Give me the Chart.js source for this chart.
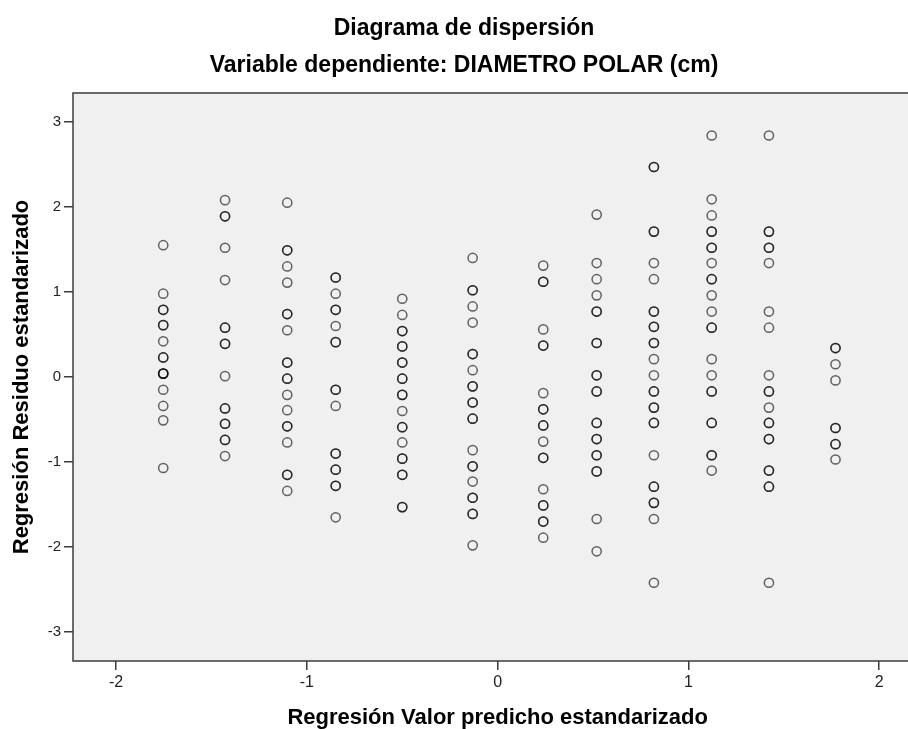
<!DOCTYPE html>
<html>
<head>
<meta charset="utf-8">
<script src="https://cdn.jsdelivr.net/npm/chart.js@4/dist/chart.umd.min.js"></script>
<style>
  body { margin: 0; background: #fff; }
</style>
</head>
<body>
<canvas id="scatter" width="908" height="729"></canvas>
<script>
// predicted value (standardized) of each column of points
const predicted = [-1.753, -1.429, -1.103, -0.849, -0.5, -0.131, 0.239, 0.519, 0.819, 1.122, 1.422, 1.771];

// standardized residuals per column (repeated values = overlapping cases)
const res1 = [1.55, 0.98, 0.79, 0.79, 0.61, 0.61, 0.42, 0.23, 0.23, 0.04, 0.04, 0.04, -0.15, -0.34, -0.51, -1.07];
const res2 = [2.08, 1.89, 1.89, 1.52, 1.14, 0.58, 0.58, 0.39, 0.39, 0.01, -0.37, -0.37, -0.55, -0.55, -0.74, -0.74, -0.93];
const res3 = [2.05, 1.49, 1.49, 1.30, 1.11, 0.74, 0.74, 0.55, 0.17, 0.17, -0.02, -0.02, -0.21, -0.39, -0.58, -0.58, -0.77, -1.15, -1.15, -1.34];
const res4 = [1.17, 1.17, 0.98, 0.79, 0.79, 0.60, 0.41, 0.41, -0.15, -0.15, -0.34, -0.90, -0.90, -1.09, -1.09, -1.28, -1.28, -1.65];
const res5 = [0.92, 0.73, 0.54, 0.54, 0.36, 0.36, 0.17, 0.17, -0.02, -0.02, -0.21, -0.21, -0.40, -0.59, -0.59, -0.77, -0.96, -0.96, -1.15, -1.15, -1.53, -1.53];
const res6 = [1.40, 1.02, 1.02, 0.83, 0.64, 0.27, 0.27, 0.08, -0.11, -0.11, -0.30, -0.30, -0.49, -0.49, -0.86, -1.05, -1.05, -1.23, -1.42, -1.42, -1.61, -1.61, -1.98];
const res7 = [1.31, 1.12, 1.12, 0.56, 0.37, 0.37, -0.19, -0.38, -0.38, -0.57, -0.57, -0.76, -0.95, -0.95, -1.32, -1.51, -1.51, -1.70, -1.70, -1.89];
const res8 = [1.91, 1.34, 1.15, 0.96, 0.77, 0.77, 0.40, 0.40, 0.02, 0.02, -0.17, -0.17, -0.54, -0.54, -0.73, -0.73, -0.92, -0.92, -1.11, -1.11, -1.67, -2.05];
const res9 = [2.47, 2.47, 1.71, 1.71, 1.34, 1.15, 0.77, 0.77, 0.59, 0.59, 0.40, 0.40, 0.21, 0.02, -0.17, -0.17, -0.36, -0.36, -0.54, -0.54, -0.92, -1.29, -1.29, -1.48, -1.48, -1.67, -2.42];
const res10 = [2.84, 2.09, 1.90, 1.71, 1.71, 1.52, 1.52, 1.34, 1.15, 1.15, 0.96, 0.77, 0.58, 0.58, 0.21, 0.02, -0.17, -0.17, -0.54, -0.54, -0.92, -0.92, -1.10];
const res11 = [2.84, 1.71, 1.71, 1.52, 1.52, 1.34, 0.77, 0.58, 0.02, -0.17, -0.17, -0.36, -0.54, -0.54, -0.73, -0.73, -1.10, -1.10, -1.29, -1.29, -2.42];
const res12 = [0.34, 0.34, 0.15, -0.04, -0.60, -0.60, -0.79, -0.79, -0.97];

const xTicks = [-2, -1, 0, 1, 2];
const yTicks = [-3, -2, -1, 0, 1, 2, 3];

const titleText = 'Diagrama de dispersión';
const subtitleText = 'Variable dependiente: DIAMETRO POLAR (cm)';
const xTitle = 'Regresión Valor predicho estandarizado';
const yTitle = 'Regresión Residuo estandarizado';

const columns = [res1, res2, res3, res4, res5, res6, res7, res8, res9, res10, res11, res12];
const points = [];
columns.forEach((col, i) => {
    col.forEach((r) => points.push({x: predicted[i], y: r}));
});

const fontFamily = '"Liberation Sans", Arial, sans-serif';

//Grey plot background with frame, titles and x axis title
const frame = {
    id: 'frame',
    beforeDatasetsDraw(chart) {
        const {ctx, chartArea: a} = chart;
        const right = chart.width;
        ctx.save();
        ctx.fillStyle = '#f0f0f0';
        ctx.fillRect(a.left, a.top, right - a.left, a.bottom - a.top);
        ctx.strokeStyle = '#3c3c3c';
        ctx.lineWidth = 1.5;
        ctx.beginPath();
        ctx.moveTo(right, a.top);
        ctx.lineTo(a.left, a.top);
        ctx.lineTo(a.left, a.bottom);
        ctx.lineTo(right, a.bottom);
        ctx.stroke();
        ctx.restore();
    },
    afterDraw(chart) {
        const ctx = chart.ctx;
        const zero = chart.scales.x.getPixelForValue(0);
        ctx.save();
        ctx.fillStyle = '#000';
        ctx.textAlign = 'center';
        ctx.textBaseline = 'middle';
        ctx.font = 'bold 23px ' + fontFamily;
        ctx.fillText(titleText, 464, 29);
        ctx.fillText(subtitleText, 464, 66);
        ctx.font = 'bold 22px ' + fontFamily;
        ctx.fillText(xTitle, zero, 718);
        ctx.restore();
    }
};

const tickFont = {family: fontFamily, size: 15};

new Chart(document.getElementById('scatter'), {
    type: 'scatter',
    data: {
        datasets: [{
            data: points,
            pointStyle: 'circle',
            pointRadius: 4.6,
            pointBorderWidth: 1.5,
            pointBackgroundColor: 'rgba(0,0,0,0)',
            pointBorderColor: 'rgba(0,0,0,0.6)',
        }]
    },
    options: {
        responsive: false,
        animation: false,
        layout: {padding: {top: 93, left: 0, right: 0, bottom: 0}},
        plugins: {
            legend: {display: false},
            tooltip: {enabled: false},
        },
        scales: {
            x: {
                type: 'linear',
                min: -2.226,
                max: 2.119,
                afterBuildTicks: (scale) => { scale.ticks = xTicks.map((v) => ({value: v})); },
                afterFit: (scale) => { scale.height = 68; },
                border: {display: false},
                grid: {drawOnChartArea: false, drawTicks: true, tickLength: 9, color: '#3c3c3c', lineWidth: 1.5},
                ticks: {font: {...tickFont, size: 16}, color: '#222', padding: 3, maxRotation: 0},
            },
            y: {
                type: 'linear',
                min: -3.34,
                max: 3.34,
                afterBuildTicks: (scale) => { scale.ticks = yTicks.map((v) => ({value: v})); },
                afterFit: (scale) => { scale.width = 73; },
                border: {display: false},
                grid: {drawOnChartArea: false, drawTicks: true, tickLength: 9, color: '#3c3c3c', lineWidth: 1.5},
                ticks: {font: tickFont, color: '#222', padding: 3},
                title: {
                    display: true,
                    text: yTitle,
                    font: {family: fontFamily, size: 22, weight: 'bold', lineHeight: 1},
                    color: '#000',
                    padding: {top: 11, bottom: 0},
                },
            }
        }
    },
    plugins: [frame]
});
</script>
</body>
</html>
